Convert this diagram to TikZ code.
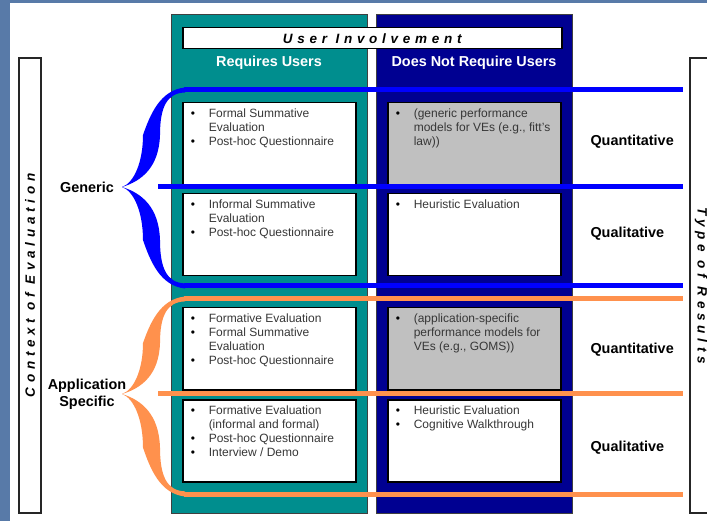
\documentclass[tikz,border=0pt]{standalone}
\usepackage{fontspec}
\setmainfont{Liberation Sans}
\newfontfamily\spaced[LetterSpace=35]{Liberation Sans}
\usetikzlibrary{positioning,calc}

\definecolor{slide}{RGB}{88,122,168}
\definecolor{tealcol}{RGB}{0,142,142}
\definecolor{navycol}{RGB}{0,0,145}
\definecolor{genblue}{RGB}{0,0,255}
\definecolor{apporange}{RGB}{255,145,77}
\definecolor{cellgray}{RGB}{192,192,192}
\definecolor{celltxt}{RGB}{55,55,55}

\newcommand{\bitem}{\par\noindent\hangindent=18pt\hangafter=1\makebox[18pt][l]{\textcolor{black}{\textbullet}}\strut}
\newcommand{\cellbox}[1]{\parbox[t][73pt][t]{157pt}{\raggedright #1}}
% one half of the thick brace, tip at the origin
\newcommand{\halfbrace}{(0,0) .. controls (12,-4) and (21,-25) .. (21,-52)
  .. controls (28,-72) and (38,-97) .. (63,-99.5) -- (63,-94.5)
  .. controls (45,-94) and (38,-80) .. (38,-52)
  .. controls (37,-20) and (20,-6) .. (0,0) -- cycle}

\begin{document}
\begin{tikzpicture}[x=1pt,y=-1pt,font=\fontsize{12}{14}\selectfont]

\tikzstyle{usercol}=[draw=black!75, line width=0.8pt, anchor=north west,
minimum width=196pt, minimum height=499pt, inner sep=0pt]
\tikzstyle{evalcell}=[draw=black, line width=1.5pt, fill=white, anchor=north west,
inner xsep=8pt, inner ysep=4.5pt, minimum width=173pt, text=celltxt]
\tikzstyle{colhead}=[text=white, font=\fontsize{14.4}{17}\selectfont\bfseries]
\tikzstyle{resultlabel}=[font=\fontsize{14.4}{17}\selectfont\bfseries, align=center]
\tikzstyle{sidebox}=[draw=black!85, line width=1.5pt, fill=white, minimum width=455pt,
minimum height=22pt, inner sep=0pt, font=\fontsize{13.5}{15}\spaced\bfseries\itshape]
\tikzstyle{band}=[line width=5pt]

\useasboundingbox (0,0) rectangle (707,521);
\fill[slide] (0,0) rectangle (707,521);
\fill[white] (10,3) rectangle (707,521);

%columns
\node[usercol, fill=tealcol] (reqcol) at (171,14) {};
\node[usercol, fill=navycol] (noreqcol) at (376,14) {};
\node[draw, line width=1.5pt, fill=white, anchor=north west, minimum width=379pt,
minimum height=21pt, inner sep=0pt, font=\fontsize{13.5}{15}\spaced\bfseries\itshape]
(involve) at (182,27) {User Involvement};
\node[colhead] (requsers) at (269,63) {Requires Users};
\node[colhead] (norequsers) at (474,63) {Does Not Require Users};

%requires users
\node[evalcell] (c11) at (182,102) {\cellbox{\bitem Formal Summative\newline Evaluation
\bitem Post-hoc Questionnaire}};
\node[evalcell] (c21) at (182,193) {\cellbox{\bitem Informal Summative\newline Evaluation
\bitem Post-hoc Questionnaire}};
\node[evalcell] (c31) at (182,307) {\cellbox{\bitem Formative Evaluation
\bitem Formal Summative\newline Evaluation \bitem Post-hoc Questionnaire}};
\node[evalcell] (c41) at (182,399) {\cellbox{\bitem Formative Evaluation\newline (informal and formal)
\bitem Post-hoc Questionnaire \bitem Interview / Demo}};

%does not require users
\node[evalcell, fill=cellgray] (c12) at (387,102) {\cellbox{\bitem (generic performance\newline
\mbox{models for VEs (e.g., fitt's}\newline law))}};
\node[evalcell] (c22) at (387,193) {\cellbox{\bitem Heuristic Evaluation}};
\node[evalcell, fill=cellgray] (c32) at (387,307) {\cellbox{\bitem (application-specific\newline
performance models for\newline VEs (e.g., GOMS))}};
\node[evalcell] (c42) at (387,399) {\cellbox{\bitem Heuristic Evaluation
\bitem Cognitive Walkthrough}};

%generic band
\draw[band, genblue] (184,90) -- (683,90);
\draw[band, genblue] (158,187) -- (683,187);
\draw[band, genblue] (184,286) -- (683,286);
\begin{scope}[shift={(122,187)}]
\fill[genblue] \halfbrace;
\fill[genblue, yscale=-1.02] \halfbrace;
\end{scope}

%application specific band
\draw[band, apporange] (184,299) -- (683,299);
\draw[band, apporange] (158,393) -- (683,393);
\draw[band, apporange] (184,494) -- (683,494);
\begin{scope}[shift={(122,394)}]
\fill[apporange, yscale=0.98] \halfbrace;
\fill[apporange, yscale=-1.03] \halfbrace;
\end{scope}

%labels
\node[resultlabel] (generic) at (87,187) {Generic};
\node[resultlabel] (appspec) at (87,394) {Application\\Specific};
\node[resultlabel, anchor=west] (quant1) at (587,142) {Quantitative};
\node[resultlabel, anchor=west] (qual1) at (587,234) {Qualitative};
\node[resultlabel, anchor=west] (quant2) at (587,350) {Quantitative};
\node[resultlabel, anchor=west] (qual2) at (587,448) {Qualitative};

\node[sidebox, rotate=90] (context) at (30,285.5) {Context of Evaluation};
\node[sidebox, rotate=-90] (restype) at (701,285.5) {Type of Results};

\end{tikzpicture}
\end{document}
